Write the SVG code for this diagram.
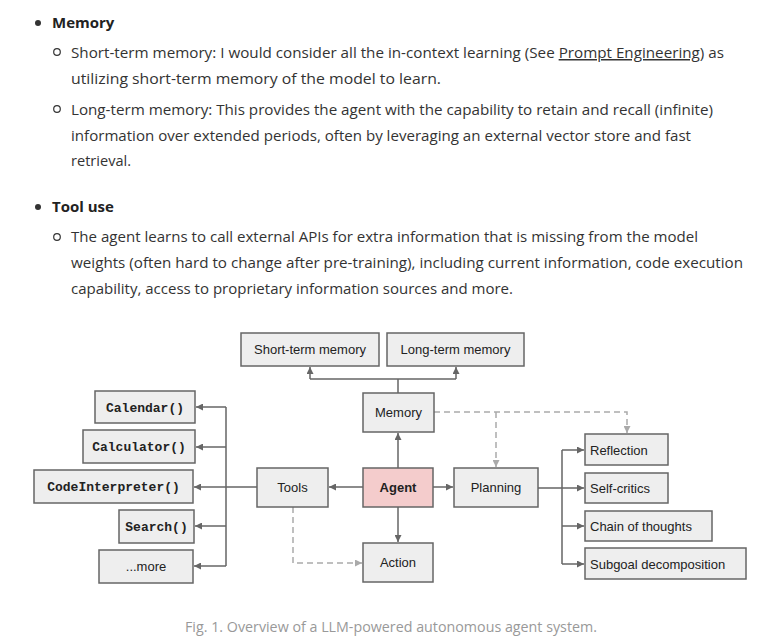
<svg xmlns="http://www.w3.org/2000/svg" width="769" height="640" viewBox="0 0 769 640">
<style>
.body{font-family:"Open Sans","Noto Sans","Liberation Sans",sans-serif;font-size:15px;fill:#333}
.bold{font-weight:bold;fill:#222}
.cap{font-family:"Open Sans","Noto Sans","Liberation Sans",sans-serif;font-size:15px;fill:#999}
.box{fill:#eeeeee;stroke:#666;stroke-width:1.5}
.agent{fill:#f4cccc;stroke:#666;stroke-width:1.5}
.lbl{font-family:"Liberation Sans",Arial,sans-serif;font-size:13px;fill:#222;text-anchor:middle}
.lbls{font-family:"Liberation Sans",Arial,sans-serif;font-size:13px;fill:#222;text-anchor:start}
.mono{font-family:"Liberation Mono","Courier New",monospace;font-size:13px;font-weight:bold;fill:#222;text-anchor:middle}
.ln{fill:none;stroke:#666;stroke-width:1.5}
.dash{fill:none;stroke:#aaa;stroke-width:1.5;stroke-dasharray:6,4}
</style>
<defs>
<marker id="ah" viewBox="0 0 10 10" refX="10" refY="5" markerWidth="7" markerHeight="7" markerUnits="userSpaceOnUse" orient="auto"><path d="M0,0 L10,5 L0,10 z" fill="#666"/></marker>
<marker id="ahd" viewBox="0 0 10 10" refX="10" refY="5" markerWidth="7" markerHeight="7" markerUnits="userSpaceOnUse" orient="auto"><path d="M0,0 L10,5 L0,10 z" fill="#aaa"/></marker>
</defs>
<rect width="769" height="640" fill="#fff"/>

<g id="text-body">
<circle cx="38" cy="23" r="3" fill="#333"/>
<text class="body bold" x="52" y="28">Memory</text>
<circle cx="57" cy="52" r="3.3" fill="none" stroke="#333" stroke-width="1.2"/>
<text class="body" x="71" y="58" textLength="653" lengthAdjust="spacingAndGlyphs">Short-term memory: I would consider all the in-context learning (See <tspan text-decoration="underline">Prompt Engineering</tspan>) as</text>
<text class="body" x="71" y="84" textLength="370" lengthAdjust="spacingAndGlyphs">utilizing short-term memory of the model to learn.</text>
<circle cx="57" cy="109" r="3.3" fill="none" stroke="#333" stroke-width="1.2"/>
<text class="body" x="71" y="115" textLength="642" lengthAdjust="spacingAndGlyphs">Long-term memory: This provides the agent with the capability to retain and recall (infinite)</text>
<text class="body" x="71" y="141" textLength="620" lengthAdjust="spacingAndGlyphs">information over extended periods, often by leveraging an external vector store and fast</text>
<text class="body" x="71" y="166" textLength="60" lengthAdjust="spacingAndGlyphs">retrieval.</text>
<circle cx="38" cy="207" r="3" fill="#333"/>
<text class="body bold" x="52" y="212">Tool use</text>
<circle cx="57" cy="237" r="3.3" fill="none" stroke="#333" stroke-width="1.2"/>
<text class="body" x="71" y="242" textLength="627" lengthAdjust="spacingAndGlyphs">The agent learns to call external APIs for extra information that is missing from the model</text>
<text class="body" x="71" y="268" textLength="672" lengthAdjust="spacingAndGlyphs">weights (often hard to change after pre-training), including current information, code execution</text>
<text class="body" x="71" y="294" textLength="442" lengthAdjust="spacingAndGlyphs">capability, access to proprietary information sources and more.</text>
</g>

<g id="connectors">
<path class="ln" d="M398,393 V379 M310,379 H456"/>
<path class="ln" d="M310,379 V367" marker-end="url(#ah)"/>
<path class="ln" d="M456,379 V367" marker-end="url(#ah)"/>
<path class="ln" d="M398,468 V433" marker-end="url(#ah)"/>
<path class="ln" d="M363,487 H329" marker-end="url(#ah)"/>
<path class="ln" d="M398,507 V542" marker-end="url(#ah)"/>
<path class="ln" d="M433,487 H453" marker-end="url(#ah)"/>
<path class="ln" d="M257,487 H226 M226,407 V566"/>
<path class="ln" d="M226,407 H196" marker-end="url(#ah)"/>
<path class="ln" d="M226,447 H196" marker-end="url(#ah)"/>
<path class="ln" d="M226,487 H194" marker-end="url(#ah)"/>
<path class="ln" d="M226,526 H195" marker-end="url(#ah)"/>
<path class="ln" d="M226,566 H194" marker-end="url(#ah)"/>
<path class="ln" d="M538,488 H562 M562,450 V564"/>
<path class="ln" d="M562,450 H584" marker-end="url(#ah)"/>
<path class="ln" d="M562,488 H584" marker-end="url(#ah)"/>
<path class="ln" d="M562,526 H584" marker-end="url(#ah)"/>
<path class="ln" d="M562,564 H584" marker-end="url(#ah)"/>
<path class="dash" d="M434,412 H627 V433" marker-end="url(#ahd)"/>
<path class="dash" d="M496,412 V467" marker-end="url(#ahd)"/>
<path class="dash" d="M293,507 V563 H362" marker-end="url(#ahd)"/>
</g>

<g id="short-term-memory"><rect class="box" x="241" y="333" width="138" height="33"/><text class="lbl" x="310" y="354">Short-term memory</text></g>
<g id="long-term-memory"><rect class="box" x="387" y="333" width="137" height="33"/><text class="lbl" x="455.5" y="354">Long-term memory</text></g>
<g id="memory"><rect class="box" x="363" y="393" width="71" height="39"/><text class="lbl" x="398.5" y="417">Memory</text></g>
<g id="tools"><rect class="box" x="257" y="468" width="71" height="39"/><text class="lbl" x="292.5" y="492">Tools</text></g>
<g id="agent"><rect class="agent" x="363" y="468" width="70" height="39"/><text class="lbl" x="398" y="492" font-weight="bold">Agent</text></g>
<g id="planning"><rect class="box" x="454" y="468" width="84" height="39"/><text class="lbl" x="496" y="492">Planning</text></g>
<g id="action"><rect class="box" x="363" y="543" width="70" height="39"/><text class="lbl" x="398" y="567">Action</text></g>
<g id="calendar"><rect class="box" x="95" y="391" width="100" height="32"/><text class="mono" x="145" y="412">Calendar()</text></g>
<g id="calculator"><rect class="box" x="83" y="430" width="112" height="33"/><text class="mono" x="139" y="451">Calculator()</text></g>
<g id="code-interpreter"><rect class="box" x="34" y="470" width="159" height="33"/><text class="mono" x="113.5" y="491">CodeInterpreter()</text></g>
<g id="search"><rect class="box" x="119" y="510" width="75" height="33"/><text class="mono" x="156.5" y="531">Search()</text></g>
<g id="more"><rect class="box" x="99" y="550" width="94" height="33"/><text class="lbl" x="146" y="571">...more</text></g>
<g id="reflection"><rect class="box" x="585" y="434" width="83" height="31"/><text class="lbls" x="590" y="455">Reflection</text></g>
<g id="self-critics"><rect class="box" x="585" y="473" width="83" height="30"/><text class="lbls" x="590" y="493">Self-critics</text></g>
<g id="chain-of-thoughts"><rect class="box" x="585" y="511" width="127" height="30"/><text class="lbls" x="590" y="531">Chain of thoughts</text></g>
<g id="subgoal-decomposition"><rect class="box" x="585" y="548" width="161" height="31"/><text class="lbls" x="590" y="569">Subgoal decomposition</text></g>

<text class="cap" x="391" y="632" text-anchor="middle" textLength="412" lengthAdjust="spacingAndGlyphs">Fig. 1. Overview of a LLM-powered autonomous agent system.</text>
</svg>
